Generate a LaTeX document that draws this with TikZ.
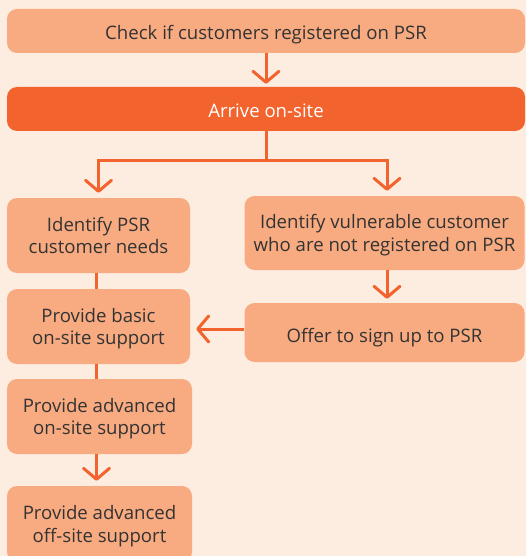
\documentclass[tikz,border=0pt]{standalone}
\usepackage{fontspec}
\setmainfont{Open Sans}
\usetikzlibrary{arrows.meta,calc}
\definecolor{bg}{HTML}{FDECE0}
\definecolor{lightbox}{HTML}{F8AB81}
\definecolor{darkbox}{HTML}{F2632D}
\definecolor{txt}{HTML}{333333}
\tikzset{
  box/.style={fill=lightbox, rounded corners=10pt, text=txt, align=center, inner sep=0pt,
    font=\fontsize{18.6}{22.5}\selectfont},
  oneline/.style={text height=18pt, text depth=0pt},
  twoline/.style={text depth=0pt},
  darkbox/.style={box, fill=darkbox, text=white},
  conn/.style={draw=darkbox, line width=3pt},
  arr/.style={conn, -{Straight Barb[length=11pt,width=26pt,line width=3pt,round]}},
}
\begin{document}
\begin{tikzpicture}[x=1pt,y=-1pt]
\useasboundingbox (0,0) rectangle (526,556);
\fill[bg] (0,0) rectangle (526,556);
\begin{scope}
\clip (0,0) rectangle (526,556);
\node[box, oneline, minimum width=518pt, minimum height=44pt] (c1) at (266,31) {Check if customers registered on PSR};
\node[darkbox, oneline, text height=17pt, minimum width=518pt, minimum height=44pt] (c2) at (266,109) {Arrive on-site};
\node[box, twoline, minimum width=183pt, minimum height=75pt] (L1) at (98.5,235.5) {Identify PSR\\customer needs};
\node[box, twoline, minimum width=280pt, minimum height=74pt] (R1) at (384.5,233) {Identify vulnerable customer\\who are not registered on PSR};
\node[box, twoline, minimum width=183pt, minimum height=75pt] (L2) at (98.5,326.5) {Provide basic\\on-site support};
\node[box, oneline, text height=19pt, minimum width=280pt, minimum height=59pt] (R2) at (384.5,332.5) {Offer to sign up to PSR};
\node[box, twoline, minimum width=185pt, minimum height=75pt] (L3) at (99.5,416.5) {Provide advanced\\on-site support};
\node[box, twoline, minimum width=185pt, minimum height=76pt] (L4) at (99.5,524) {Provide advanced\\off-site support};

\coordinate (split) at ($(c2.south)+(0,29)$);
\draw[conn] (c2.south) -- (split);
\draw[arr, shorten >=5pt] (split) -| (L1.north);
\draw[arr, shorten >=5pt] (split) -| ([xshift=2.5pt]R1.north);
\draw[arr, shorten >=3pt] (c1.south) -- (c2.north);
\draw[conn] ([xshift=-2.5pt]L1.south) -- ([xshift=-2.5pt]L2.north);
\draw[conn] ([xshift=-2.5pt]L2.south) -- ([xshift=-2.5pt]L2.south |- L3.north);
\draw[arr, shorten >=5pt] ([xshift=-3pt]L3.south) -- ([xshift=-3pt]L3.south |- L4.north);
\draw[arr, shorten >=4pt] ([xshift=2.5pt]R1.south) -- ([xshift=2.5pt]R1.south |- R2.north);
\draw[arr, shorten >=6pt] ([yshift=3.5pt]R2.west) -- ([yshift=3.5pt]R2.west -| L2.east);
\end{scope}
\end{tikzpicture}
\end{document}
